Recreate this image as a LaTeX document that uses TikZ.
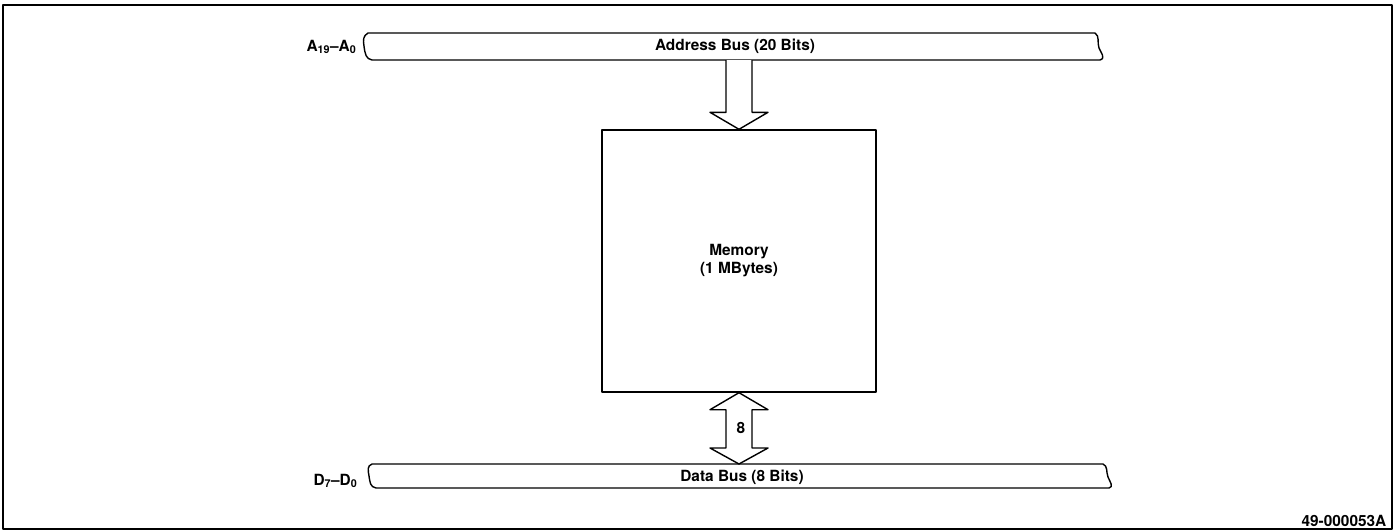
\documentclass[tikz,border=0pt]{standalone}
\usepackage{fontspec}
\setmainfont{TeX Gyre Heros}
\usetikzlibrary{positioning,calc}

\begin{document}
\begin{tikzpicture}[x=1pt,y=-1pt,line width=1.4pt,line join=round,
  lbl/.style={font=\bfseries\fontsize{15.4}{18}\selectfont,inner sep=0pt},
  memblock/.style={draw,minimum width=274pt,minimum height=262pt,inner sep=0pt,align=center,font=\bfseries\fontsize{15.4}{18}\selectfont},
  busline/.style={draw,line width=1.4pt},
  blockarrow/.style={draw,fill=white,line width=1.4pt}]
\useasboundingbox (0,0) rectangle (1395,531);
\draw[line width=1.2pt] (3,5) rectangle (1392,529);
% memory
\node[memblock] (mem) at (739,261) {Memory\\(1 MBytes)};
% buses
\coordinate (abus) at (739,60);
\coordinate (dbus) at (739,464);
\draw[busline] (368,33) -- (1095,33) .. controls (1100,36) and (1097,43) .. (1099,48)
  .. controls (1101,53) and (1106,58) .. (1100,60) -- (372,60)
  .. controls (366,59) and (365,54) .. (364,46) .. controls (363,40) and (363,36) .. cycle;
\draw[busline] (372,464) -- (1103,464) .. controls (1108,466) and (1106,472) .. (1108,477)
  .. controls (1110,482) and (1114,487) .. (1109,488) -- (376,488)
  .. controls (370,487) and (370,482) .. (369,476) .. controls (368,470) and (367,466) .. cycle;
\node[lbl] (alabel) at (735,46) {Address Bus (20 Bits)};
\node[lbl] (dlabel) at (742,477) {Data Bus (8 Bits)};
\node[lbl,anchor=east] (abits) at (357,47) {A\textsubscript{19}--A\textsubscript{0}};
\node[lbl,anchor=east] (dbits) at (358,481) {D\textsubscript{7}--D\textsubscript{0}};
% address arrow
\draw[blockarrow] ($(abus)+(-13,0)$) -- ($(mem.north)+(-13,-17)$) -- ($(mem.north)+(-29,-17)$)
  -- (mem.north) -- ($(mem.north)+(29,-17)$) -- ($(mem.north)+(13,-17)$) -- ($(abus)+(13,0)$);
% data arrow
\draw[blockarrow] (mem.south) -- ($(mem.south)+(29,17)$) -- ($(mem.south)+(13,17)$)
  -- ($(dbus)+(13,-16)$) -- ($(dbus)+(29,-16)$) -- (dbus) -- ($(dbus)+(-29,-16)$)
  -- ($(dbus)+(-13,-16)$) -- ($(mem.south)+(-13,17)$) -- ($(mem.south)+(-29,17)$) -- cycle;
\node[lbl] (width) at ($(mem.south)!0.5!(dbus)+(2,0)$) {8};
\node[lbl,anchor=south east] (fig) at (1387,527) {49-000053A};
\end{tikzpicture}
\end{document}
